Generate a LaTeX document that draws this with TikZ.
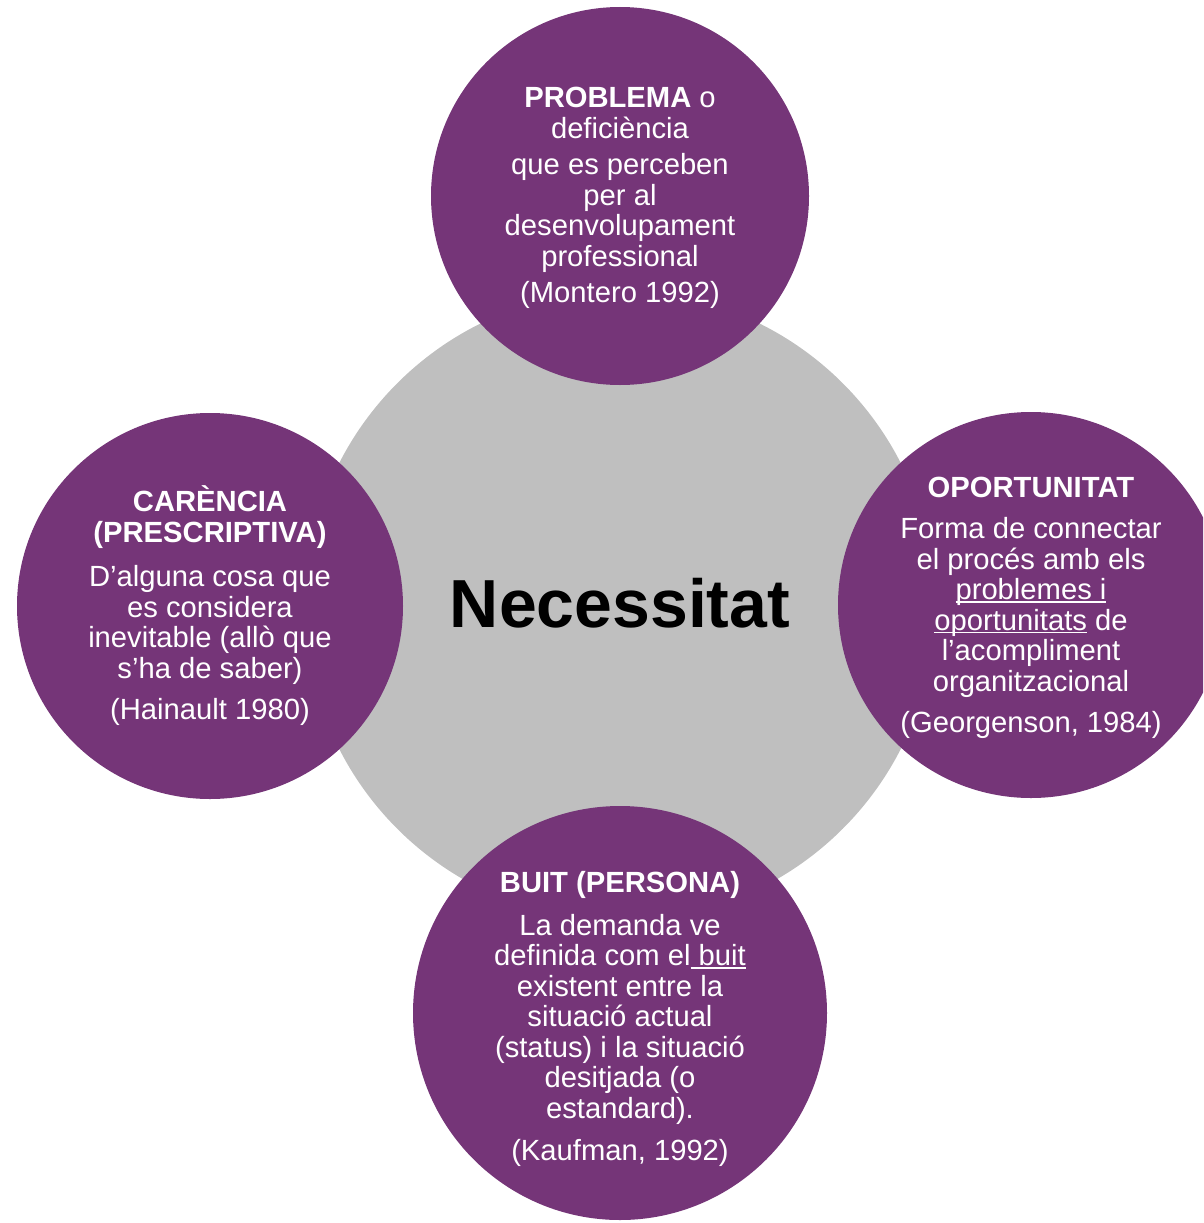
\documentclass[tikz,border=0pt]{standalone}
\usepackage{fontspec}
\setmainfont{Liberation Sans}
\newsavebox{\ulbox}
\newcommand{\myuline}[1]{\sbox{\ulbox}{#1}\rlap{\rule[-3pt]{\wd\ulbox}{1.6pt}}\usebox{\ulbox}}
\definecolor{bubblepurple}{HTML}{753578}
\definecolor{coregray}{HTML}{BFBFBF}
\tikzset{
  core/.style={circle, fill=coregray, inner sep=0pt, minimum size=630pt},
  bubble/.style={circle, fill=bubblepurple, inner sep=0pt},
  bubbletext/.style={inner sep=0pt, text=white, align=center,
    font=\fontsize{29.2}{30.5}\selectfont},
  title/.style={font=\fontsize{68}{72}\selectfont\bfseries, text=black, inner sep=0pt}
}
\begin{document}
\begin{tikzpicture}[x=1pt,y=-1pt]
\useasboundingbox (0,0) rectangle (1203,1223);
\clip (0,0) rectangle (1203,1223);
\node[core] (core) at (620,606) {};
\node[title] (necessitat) at (620,603) {Necessitat};
\node[bubble, minimum size=378pt] (problema) at (620,196) {};
\node[bubble, minimum size=386pt] (carencia) at (210,606) {};
\node[bubble, minimum size=386pt] (oportunitat) at (1031,605) {};
\node[bubble, minimum size=414pt] (buit) at (620,1013) {};
\node[bubbletext] (problematext) at ([yshift=-2pt]problema.center)
  {\textbf{PROBLEMA} o\\ deficiència\\[6pt] que es perceben\\ per al\\ desenvolupament\\ professional\\[6pt] (Montero 1992)};
\node[bubbletext] (carenciatext) at ([yshift=0pt]carencia.center)
  {\textbf{CARÈNCIA}\\ \textbf{(PRESCRIPTIVA)}\\[14pt] D’alguna cosa que\\ es considera\\ inevitable (allò que\\ s’ha de saber)\\[11pt] (Hainault 1980)};
\node[bubbletext] (oportunitattext) at ([yshift=-3pt]oportunitat.center)
  {\textbf{OPORTUNITAT}\\[11pt] Forma de connectar\\ el procés amb els\\ \myuline{problemes i}\\ \myuline{oportunitats} de\\ l’acompliment\\ organitzacional\\[11pt] (Georgenson, 1984)};
\node[bubbletext] (buittext) at ([yshift=-6pt]buit.center)
  {\textbf{BUIT (PERSONA)}\\[12pt] La demanda ve\\ definida com el\myuline{ buit}\\ existent entre la\\ situació actual\\ (status) i la situació\\ desitjada (o\\ estandard).\\[12pt] (Kaufman, 1992)};
\end{tikzpicture}
\end{document}
